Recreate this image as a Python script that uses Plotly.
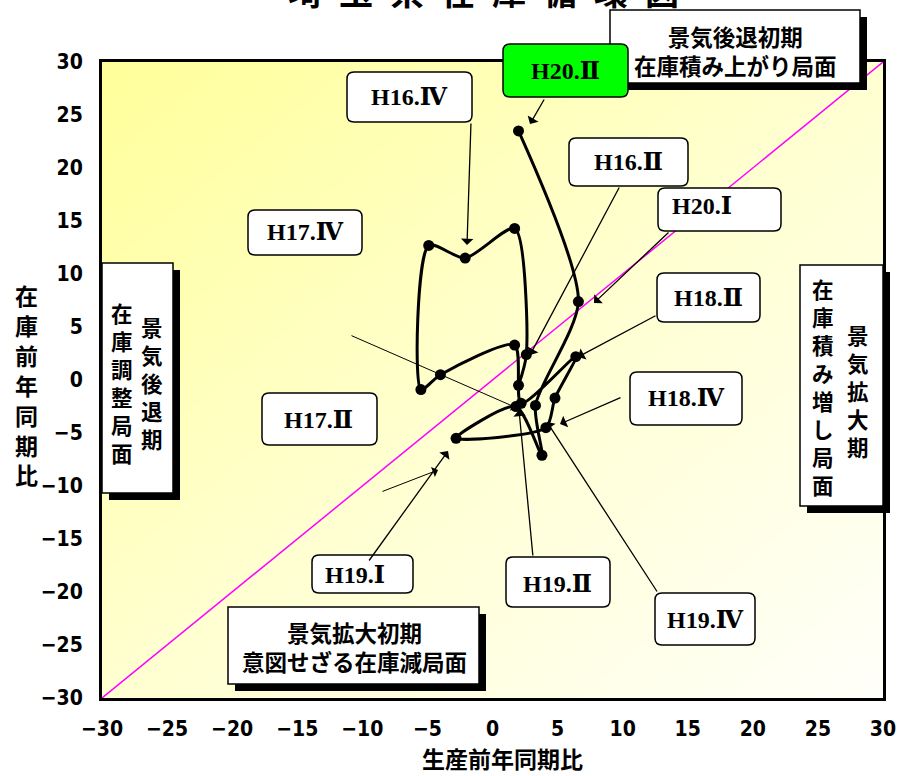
import plotly.graph_objects as go

# ---------------- data ----------------
quarters = ["H16.Ⅰ", "H16.Ⅱ", "H16.Ⅲ", "H16.Ⅳ", "H17.Ⅰ", "H17.Ⅱ", "H17.Ⅲ", "H17.Ⅳ",
            "H18.Ⅰ", "H18.Ⅱ", "H18.Ⅲ", "H18.Ⅳ", "H19.Ⅰ", "H19.Ⅱ", "H19.Ⅲ", "H19.Ⅳ",
            "H20.Ⅰ", "H20.Ⅱ"]
production = [2.0, 2.6, 1.7, -2.1, -4.9, -5.5, -4.0, 1.7,
              2.2, 6.4, 4.8, 4.1, -2.8, 1.8, 3.8, 3.3,
              6.6, 2.0]
inventory = [-0.5, 2.4, 14.3, 11.5, 12.7, -0.9, 0.5, 3.3,
             -2.2, 2.2, -1.7, -4.5, -5.5, -2.5, -7.1, -2.4,
             7.4, 23.5]
axis_ticks = [-30, -25, -20, -15, -10, -5, 0, 5, 10, 15, 20, 25, 30]
diag_x = [-30, 30]
diag_y = [-30, 30]

title_text = "埼玉県在庫循環図"
x_title = "生産前年同期比"
y_title = "在庫前年同期比"

# ---------------- layout helpers ----------------
W, H = 901, 776
L, R, T, B = 102, 883, 62, 698


def px(x):
    return (x - L) / (R - L)


def py(y):
    return (B - y) / (B - T)


def rect_path(x0, y0, x1, y1, r=0):
    if r == 0:
        return f"M{px(x0)},{py(y0)} L{px(x1)},{py(y0)} L{px(x1)},{py(y1)} L{px(x0)},{py(y1)} Z"
    return (f"M{px(x0 + r)},{py(y0)} L{px(x1 - r)},{py(y0)} Q{px(x1)},{py(y0)} {px(x1)},{py(y0 + r)} "
            f"L{px(x1)},{py(y1 - r)} Q{px(x1)},{py(y1)} {px(x1 - r)},{py(y1)} "
            f"L{px(x0 + r)},{py(y1)} Q{px(x0)},{py(y1)} {px(x0)},{py(y1 - r)} "
            f"L{px(x0)},{py(y0 + r)} Q{px(x0)},{py(y0)} {px(x0 + r)},{py(y0)} Z")


def text_ann(txt, x, y, family, size):
    return dict(x=px(x), y=py(y), xref="paper", yref="paper", xanchor="center",
                yanchor="middle", text=txt, showarrow=False,
                font=dict(family=family, size=size, color="black"))


def arrow_ann(tail, tip, width=1.3, size=1.6):
    return dict(x=px(tip[0]), y=py(tip[1]), xref="paper", yref="paper",
                ax=tail[0] - tip[0], ay=tail[1] - tip[1], axref="pixel", ayref="pixel",
                text="", showarrow=True, arrowhead=1, arrowsize=size,
                arrowwidth=width, arrowcolor="black", standoff=0)


fig = go.Figure()

# background gradient
fig.add_trace(go.Heatmap(
    x=[-30, 30], y=[-30, 30], z=[[0.5, 1.0], [0.0, 0.5]],
    colorscale=[[0, "#FFFF9A"], [0.5, "#FFFFD0"], [1, "#FFFFFA"]],
    zsmooth="best", showscale=False, hoverinfo="skip"))

# 45 degree line
fig.add_trace(go.Scatter(x=diag_x, y=diag_y, mode="lines",
                         line=dict(color="#FF00FF", width=1.5), hoverinfo="skip"))

# cycle line
fig.add_trace(go.Scatter(
    x=production, y=inventory, text=quarters, mode="lines+markers",
    line=dict(color="black", width=3, shape="spline", smoothing=0.7),
    marker=dict(color="black", size=11, symbol="circle")))

shapes = []
annotations = []

GOTHIC = "Noto Sans CJK JP"
SERIF = "Liberation Serif, DejaVu Serif, Noto Sans CJK JP"

# region boxes (with shadow)
region_boxes = [
    (610, 10, 860, 83),
    (228, 607, 479, 684),
    (102, 263, 173, 493),
    (800, 265, 883, 506),
]
for (x0, y0, x1, y1) in region_boxes:
    shapes.append(dict(type="path", path=rect_path(x0 + 7, y0 + 7, x1 + 7, y1 + 7),
                       xref="paper", yref="paper", fillcolor="black",
                       line=dict(width=0), layer="above"))
    shapes.append(dict(type="path", path=rect_path(x0, y0, x1, y1),
                       xref="paper", yref="paper", fillcolor="white",
                       line=dict(color="black", width=1.5), layer="above"))

# callout boxes
callouts = [
    # label, box, text centre, arrow tail, arrow tip, fill
    ("H20.Ⅱ", (503, 44, 628, 97), (565, 71), (545, 98), (530, 124), "#00FF00"),
    ("H16.Ⅳ", (347, 72, 472, 122), (409, 97), (471, 122), (467, 245), "white"),
    ("H16.Ⅱ", (569, 138, 688, 186), (628, 162), (620, 186), (530, 355), "white"),
    ("H20.Ⅰ", (658, 188, 781, 231), (702, 206), (670, 231), (594, 303), "white"),
    ("H18.Ⅱ", (657, 273, 760, 322), (708, 298), (657, 315), (578, 357), "white"),
    ("H18.Ⅳ", (630, 372, 742, 425), (686, 398), (622, 397), (560, 424), "white"),
    ("H17.Ⅳ", (248, 210, 362, 255), (305, 232), None, None, "white"),
    ("H17.Ⅱ", (262, 393, 377, 445), (318, 420), None, None, "white"),
    ("H19.Ⅰ", (312, 555, 413, 593), (355, 575), (368, 562), (448, 451), "white"),
    ("H19.Ⅱ", (506, 557, 610, 607), (557, 584), (533, 557), (519, 410), "white"),
    ("H19.Ⅳ", (655, 593, 755, 645), (705, 620), (658, 593), (547, 422), "white"),
]
for lab, (x0, y0, x1, y1), (tx, ty), tail, tip, fill in callouts:
    shapes.append(dict(type="path", path=rect_path(x0, y0, x1, y1, r=7),
                       xref="paper", yref="paper", fillcolor=fill,
                       line=dict(color="black", width=1.5), layer="above"))
    annotations.append(text_ann(f"<b>{lab}</b>", tx, ty, SERIF, 24))
    if tail is not None:
        annotations.append(arrow_ann(tail, tip))

# stray thin arrows
for tail, tip in [((350, 335), (517, 408)), ((381, 492), (438, 470))]:
    annotations.append(arrow_ann(tail, tip, width=1, size=1.8))

# region texts (horizontal)
for txt, tx, ty in [("景気後退初期<br>在庫積み上がり局面", 735, 50),
                    ("景気拡大初期<br>意図せざる在庫減局面", 354, 646)]:
    annotations.append(text_ann(f"<b>{txt}</b>", tx, ty, GOTHIC, 22.5))

# region texts (vertical)
for txt, tx, ty in [("景気後退期", 152, 382), ("在庫調整局面", 122, 382),
                    ("在庫積み増し局面", 823, 386), ("景気拡大期", 858, 390)]:
    annotations.append(text_ann("<b>" + "<br>".join(txt) + "</b>", tx, ty, GOTHIC, 21.5))

# titles
annotations.append(text_ann("<b>" + "\u2002".join(title_text) + "</b>", 483, -9, GOTHIC, 34))
annotations.append(text_ann(f"<b>{x_title}</b>", 502, 758, GOTHIC, 23))
annotations.append(text_ann("<b>" + "<br>".join(y_title) + "</b>", 26, 385, GOTHIC, 23))

tickfont = dict(family="Liberation Sans Narrow, DejaVu Sans Condensed", size=21,
                color="black", weight="bold")
axis_common = dict(range=[-30, 30], tickvals=axis_ticks,
                   ticktext=[str(v).replace("-", "−") for v in axis_ticks],
                   showgrid=False, zeroline=True, zerolinecolor="black", zerolinewidth=3,
                   showline=True, linecolor="black", linewidth=3, mirror=True,
                   ticks="", tickfont=tickfont, fixedrange=True)

fig.update_layout(
    width=W, height=H,
    margin=dict(l=L, r=W - R, t=T, b=H - B, autoexpand=False),
    paper_bgcolor="white", plot_bgcolor="#FFFFE0",
    showlegend=False,
    xaxis=dict(**axis_common, ticklabelstandoff=10),
    yaxis=dict(**axis_common, ticklabelstandoff=12),
    shapes=shapes, annotations=annotations,
)

fig.write_html("out.html", config={"displayModeBar": False},
               post_script="document.body.style.margin='0';document.body.style.overflow='hidden';")
